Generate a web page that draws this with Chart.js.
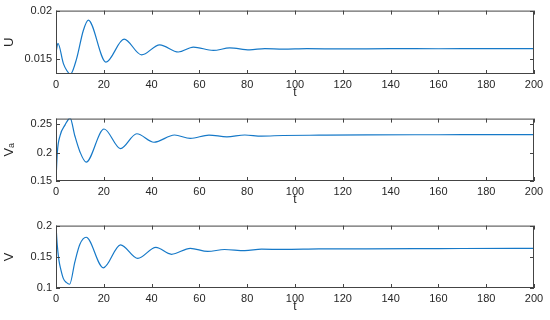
<!DOCTYPE html>
<html lang="en">
<head>
    <meta charset="UTF-8">
    <title>U, Va, V versus t</title>
    <script src="https://cdn.jsdelivr.net/npm/chart.js"></script>
    <style>
        body { margin: 0; padding: 0; background: #fff; }
        .panel { position: absolute; left: 0; width: 550px; }
    </style>
</head>
<body>
    <div class="panel" style="top:0px;height:103px;"><canvas id="chartU"></canvas></div>
    <div class="panel" style="top:108px;height:102px;"><canvas id="chartVa"></canvas></div>
    <div class="panel" style="top:215px;height:102px;"><canvas id="chartV"></canvas></div>
    <script>
        // x axis ticks (shared)
        const xTicks = [0, 20, 40, 60, 80, 100, 120, 140, 160, 180, 200];

        // U(t)
        const tU = [0, 0.8, 3.1, 4.5, 6, 8.6, 11.4, 13.5, 20.9, 28.5, 35.8, 43.4, 51.2, 57.5, 65.8, 72.7, 81, 87.4, 95, 105, 120, 140, 160, 180, 200];
        const U  = [0.0156, 0.0166, 0.01448, 0.01376, 0.01335, 0.01497, 0.0179, 0.0190, 0.01464, 0.01703, 0.01539, 0.01644, 0.01569, 0.0162, 0.01585, 0.01611, 0.01591, 0.01605, 0.01598, 0.01604, 0.01601, 0.01604, 0.01603, 0.01605, 0.01604];
        const yTicksU = [0.015, 0.02];

        // Va(t)
        const tVa = [0, 0.55, 1.7, 3.8, 5.9, 7.9, 10, 12.6, 20.1, 27, 33.8, 41, 49.6, 56.2, 64, 71.5, 79, 86, 95, 110, 130, 150, 170, 200];
        const Va  = [0.15, 0.2, 0.23, 0.249, 0.261, 0.2294, 0.2017, 0.1833, 0.2417, 0.2072, 0.2333, 0.2183, 0.2311, 0.225, 0.231, 0.2278, 0.2311, 0.2292, 0.2302, 0.2308, 0.2314, 0.2315, 0.2316, 0.2317];
        const yTicksVa = [0.15, 0.2, 0.25];

        // V(t)
        const tV = [0, 0.5, 1.2, 2, 3.1, 4.3, 5.7, 7.9, 10, 12.6, 19.8, 27, 34.2, 41.8, 48.3, 56.2, 63.5, 70.5, 79, 86, 95, 110, 130, 150, 170, 200];
        const V  = [0.2, 0.17, 0.145, 0.13, 0.115, 0.109, 0.106, 0.142, 0.170, 0.1813, 0.1323, 0.1692, 0.1475, 0.165, 0.154, 0.1636, 0.1586, 0.1617, 0.160, 0.1622, 0.1618, 0.1626, 0.1628, 0.1630, 0.1633, 0.1636];
        const yTicksV = [0.1, 0.15, 0.2];

        const axisColor = '#262626';
        const boxColor = '#444';
        const lineColor = '#1679c8';
        const fontFamily = "'Liberation Sans', Arial, sans-serif";

        // MATLAB-like box with inward ticks on all four sides
        const boxPlugin = {
            id: 'box',
            afterDatasetsDraw(chart) {
                const { ctx, chartArea: a, scales } = chart;
                const tl = 4;
                ctx.save();
                ctx.strokeStyle = boxColor;
                ctx.lineWidth = 1;
                ctx.strokeRect(a.left + 0.5, a.top + 0.5, a.right - a.left - 1, a.bottom - a.top - 1);
                ctx.beginPath();
                scales.x.ticks.forEach(t => {
                    const px = Math.round(scales.x.getPixelForValue(t.value)) + 0.5;
                    ctx.moveTo(px, a.bottom); ctx.lineTo(px, a.bottom - tl);
                    ctx.moveTo(px, a.top); ctx.lineTo(px, a.top + tl);
                });
                scales.y.ticks.forEach(t => {
                    const py = Math.round(scales.y.getPixelForValue(t.value)) + 0.5;
                    ctx.moveTo(a.left, py); ctx.lineTo(a.left + tl, py);
                    ctx.moveTo(a.right, py); ctx.lineTo(a.right - tl, py);
                });
                ctx.stroke();
                ctx.restore();
            }
        };

        function makeChart(id, tArr, vArr, yMin, yMax, yTicks, yLabel) {
            const points = tArr.map((t, i) => ({ x: t, y: vArr[i] }));
            return new Chart(document.getElementById(id), {
                type: 'line',
                data: {
                    datasets: [{
                        data: points,
                        borderColor: lineColor,
                        borderWidth: 1.2,
                        pointRadius: 0,
                        cubicInterpolationMode: 'monotone',
                        fill: false
                    }]
                },
                options: {
                    responsive: true,
                    maintainAspectRatio: false,
                    animation: false,
                    layout: { padding: { top: 7, right: 16, left: 0, bottom: 0 } },
                    plugins: { legend: { display: false }, tooltip: { enabled: false } },
                    scales: {
                        x: {
                            type: 'linear', min: 0, max: 200,
                            afterBuildTicks: s => { s.ticks = xTicks.map(v => ({ value: v })); },
                            afterFit: s => { s.height = 29; },
                            grid: { display: false, drawTicks: false },
                            border: { display: false },
                            ticks: { color: axisColor, padding: 4, maxRotation: 0, font: { family: fontFamily, size: 11 } },
                            title: { display: true, text: 't', color: axisColor, padding: { top: 0, bottom: 3 }, font: { family: fontFamily, size: 12 } }
                        },
                        y: {
                            min: yMin, max: yMax,
                            afterBuildTicks: s => { s.ticks = yTicks.map(v => ({ value: v })); },
                            afterFit: s => { s.width = 56; },
                            grid: { display: false, drawTicks: false },
                            border: { display: false },
                            ticks: { color: axisColor, padding: 4, font: { family: fontFamily, size: 11 },
                                     callback: v => String(Number(v.toFixed(3))) },
                            title: { display: true, text: yLabel, color: axisColor, padding: { top: 2, bottom: 0 }, font: { family: fontFamily, size: 13 } }
                        }
                    }
                },
                plugins: [boxPlugin]
            });
        }

        makeChart('chartU', tU, U, 0.0134, 0.02, yTicksU, 'U');
        makeChart('chartVa', tVa, Va, 0.15, 0.26, yTicksVa, 'V\u2090');
        makeChart('chartV', tV, V, 0.1, 0.2, yTicksV, 'V');
    </script>
</body>
</html>
